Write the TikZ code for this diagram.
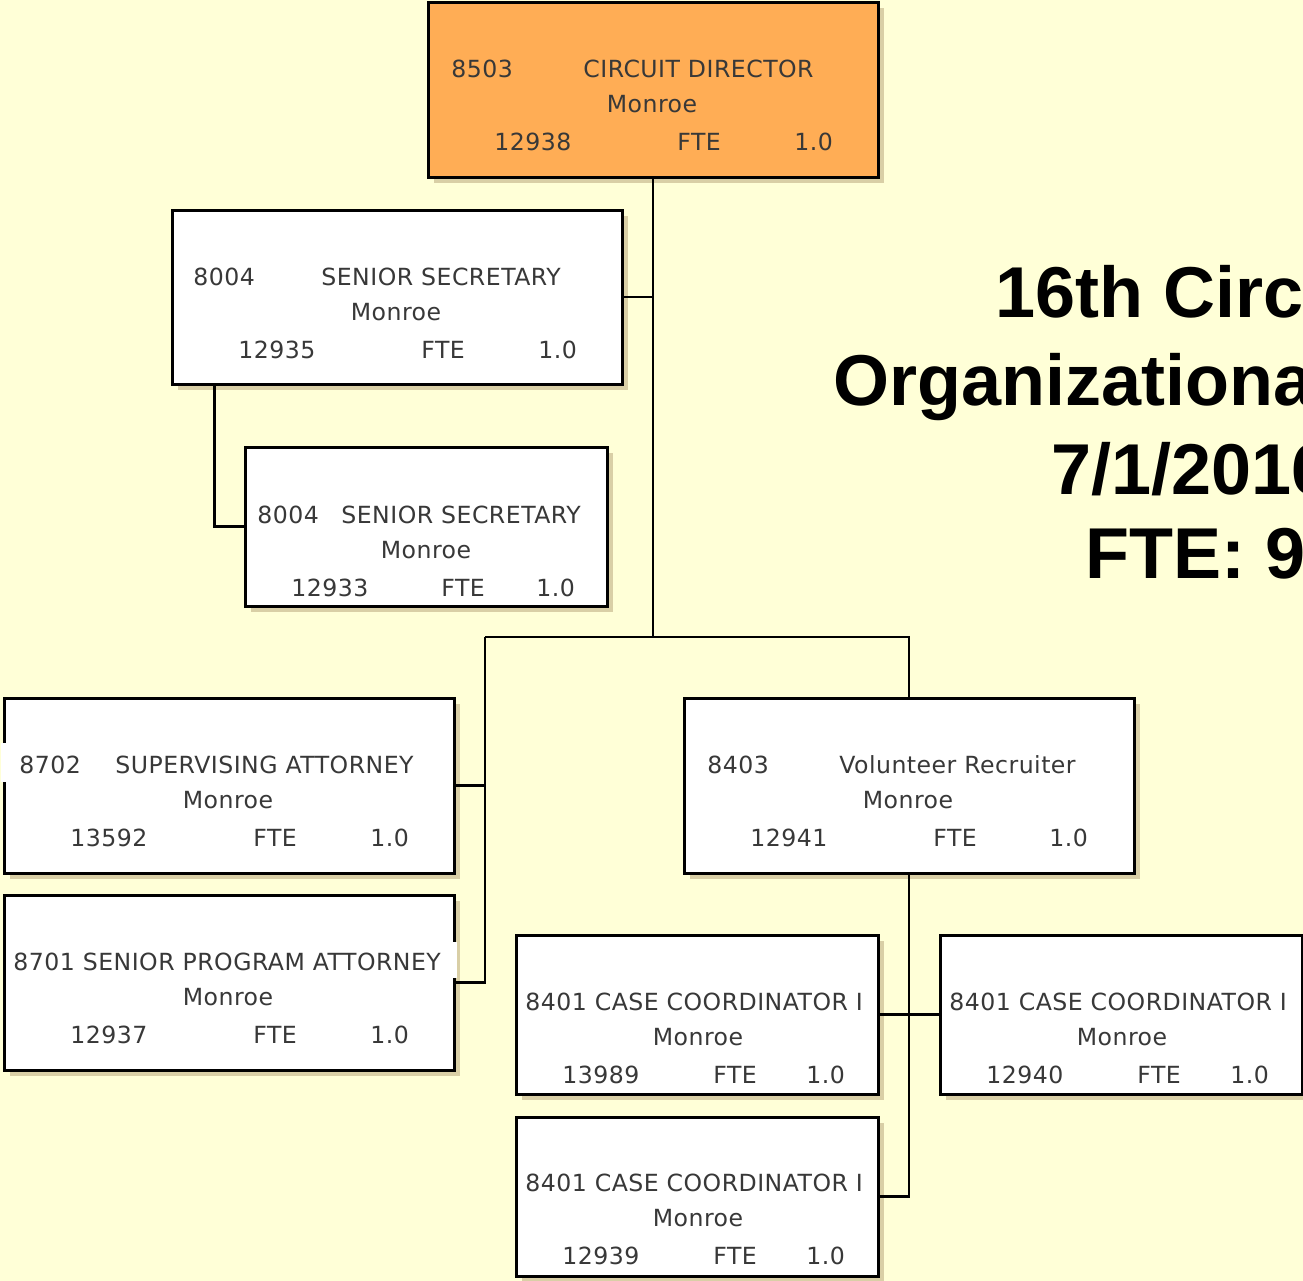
\documentclass[tikz,border=0pt]{standalone}
\usepackage{fontspec}
\setmainfont{DejaVu Sans}[LetterSpace=2.0]
\newfontfamily\titlefont{Liberation Sans}
\definecolor{pagebg}{RGB}{255,255,215}
\definecolor{boxshade}{RGB}{217,207,166}
\definecolor{topfill}{RGB}{255,173,85}

\tikzset{
  orgnode/.style={draw=black, line width=1.5pt, rectangle, inner sep=0pt},
  link/.style={draw=black, line width=1.2pt},
  ltxt/.style={anchor=base west, inner sep=0pt, text=black!78,
               font=\fontsize{11.8}{14}\selectfont},
  ctxt/.style={ltxt, anchor=base},
  ttl/.style={anchor=base west, inner sep=0pt,
              font=\titlefont\bfseries\fontsize{36}{40}\selectfont},
}

% position box with its drop shadow: name, x1, y1, x2, y2, fill
\newcommand\orgbox[6]{%
  \fill[boxshade] (#2+6,#3+6) rectangle (#4+6,#5+6);
  \pgfmathsetmacro\bw{(#4-#2)*0.5}%
  \pgfmathsetmacro\bh{(#5-#3)*0.5}%
  \node[orgnode, fill=#6, minimum width=\bw pt, minimum height=\bh pt]
    (#1) at ({(#2+#4)/2},{(#3+#5)/2}) {};
}
% first line pieces: node name, box top, left x, text
\newcommand\jobhead[4]{\node[ltxt] (#1) at (#3,#2+75) {#4};}
% lower lines: name, box top, Monroe centre x, number x, number, FTE x, value x
\newcommand\jobfoot[7]{%
  \node[ctxt] (#1-loc) at (#3,#2+110) {Monroe};
  \node[ltxt] (#1-num) at (#4,#2+148) {#5};
  \node[ltxt] (#1-fte) at (#6,#2+148) {FTE};
  \node[ltxt] (#1-val) at (#7,#2+148) {1.0};
}

\begin{document}
\begin{tikzpicture}[x=0.5pt, y=-0.5pt]
  \clip (0,0) rectangle (1303,1281);
  \fill[pagebg] (0,0) rectangle (1303,1281);

  % connectors
  \coordinate (bus) at (653,637);
  \coordinate (busL) at (485,637);

  % boxes
  \orgbox{dir}{428}{2}{878}{177}{topfill}
  \orgbox{sec1}{172}{210}{622}{384}{white}
  \orgbox{sec2}{245}{447}{607}{606}{white}
  \orgbox{sup}{4}{698}{454}{873}{white}
  \orgbox{spa}{4}{895}{454}{1070}{white}
  \orgbox{vr}{684}{698}{1134}{873}{white}
  \orgbox{cc1}{516}{935}{878}{1094}{white}
  \orgbox{cc2}{940}{935}{1302}{1094}{white}
  \orgbox{cc3}{516}{1117}{878}{1276}{white}

  \draw[link] (dir.south) -- (bus);
  \draw[link] (sec1.east) -- (sec1.east -| dir.south);
  \draw[link] ([xshift=22pt]sec1.south west) |- (sec2.west);
  \draw[link] (busL) -- (bus) -| (vr.north);
  \draw[link] (busL) |- (spa.east);
  \draw[link] (sup.east) -- (sup.east -| busL);
  \draw[link] (vr.south) |- (cc3.east);
  \draw[link] (cc1.east) -- (cc2.west);

  % text backgrounds breaking the box borders
  \fill[white] (1,743) rectangle (7,782);
  \fill[white] (451,942) rectangle (457,978);

  % box texts
  \jobhead{dir-code}{2}{451}{8503}
  \jobhead{dir-title}{2}{583}{CIRCUIT DIRECTOR}
  \jobfoot{dir}{2}{652}{494}{12938}{677}{794}

  \jobhead{sec1-code}{210}{193}{8004}
  \jobhead{sec1-title}{210}{321}{SENIOR SECRETARY}
  \jobfoot{sec1}{210}{396}{238}{12935}{421}{538}

  \jobhead{sec2-code}{448}{257}{8004}
  \jobhead{sec2-title}{448}{341}{SENIOR SECRETARY}
  \jobfoot{sec2}{448}{426}{291}{12933}{441}{536}

  \jobhead{sup-code}{698}{19}{8702}
  \jobhead{sup-title}{698}{115}{SUPERVISING ATTORNEY}
  \jobfoot{sup}{698}{228}{70}{13592}{253}{370}

  \jobhead{spa-title}{895}{13}{8701 SENIOR PROGRAM ATTORNEY}
  \jobfoot{spa}{895}{228}{70}{12937}{253}{370}

  \jobhead{vr-code}{698}{707}{8403}
  \jobhead{vr-title}{698}{839}{Volunteer Recruiter}
  \jobfoot{vr}{698}{908}{750}{12941}{933}{1049}

  \jobhead{cc1-title}{935}{525}{8401 CASE COORDINATOR I}
  \jobfoot{cc1}{935}{698}{562}{13989}{713}{806}

  \jobhead{cc2-title}{935}{949}{8401 CASE COORDINATOR I}
  \jobfoot{cc2}{935}{1122}{986}{12940}{1137}{1230}

  \jobhead{cc3-title}{1116}{525}{8401 CASE COORDINATOR I}
  \jobfoot{cc3}{1116}{698}{562}{12939}{713}{806}

  % title block
  \node[ttl] (t1) at (995,317) {16th Circ};
  \node[ttl] (t2) at (833,405) {Organizationa};
  \node[ttl] (t3) at (1051,494) {7/1/2016};
  \node[ttl] (t4) at (1085,578) {FTE: 9};
\end{tikzpicture}
\end{document}
